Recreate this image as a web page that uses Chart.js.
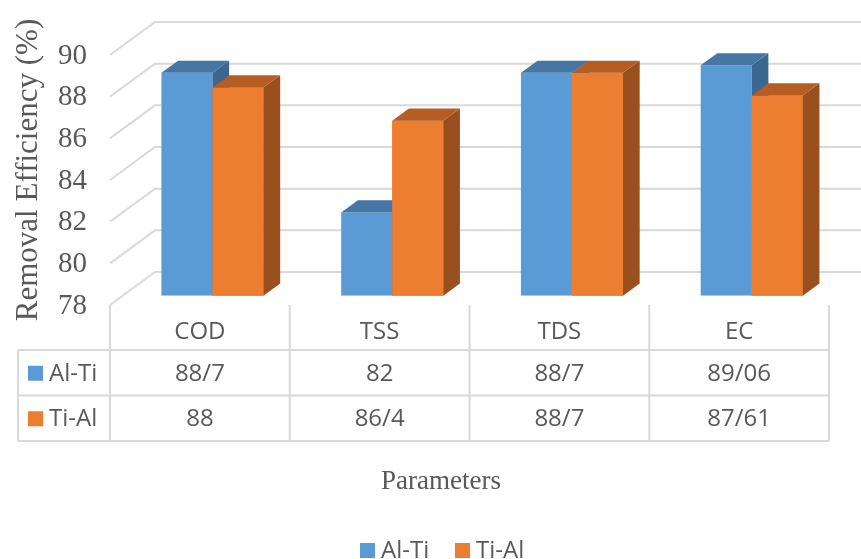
<!DOCTYPE html>
<html>
<head>
<meta charset="utf-8">
<script src="https://cdn.jsdelivr.net/npm/chart.js@4.4.1/dist/chart.umd.min.js"></script>
<style>
  body { margin: 0; background: #fff; }
  #wrap { width: 861px; height: 559px; position: relative; }
</style>
</head>
<body>
<div id="wrap"><canvas id="myChart"></canvas></div>
<script>
const categories = ['COD', 'TSS', 'TDS', 'EC'];
const seriesNames = ['Al-Ti', 'Ti-Al'];
const alTi = [88.7, 82, 88.7, 89.06];
const tiAl = [88, 86.4, 88.7, 87.61];
const yTicks = [78, 80, 82, 84, 86, 88, 90];

const blue = { front: '#5B9BD5', top: '#4676A4', side: '#3A6690' };
const orange = { front: '#ED7D31', top: '#B55D22', side: '#994F1E' };
const grid = '#D9D9D9';
const textCol = '#595959';

// depth of the 3d box: front plane -> back wall
const depth = { x: 45, y: -33 };
const barFront = 0.28; // where the bars front face sits
const barDepth = 0.37;

const fmt = (v) => String(v).replace('.', '/');

function drawFaces(ctx, el, c, withFront) {
  const dx = depth.x * barDepth;
  const dy = depth.y * barDepth;
  const l = el.x - el.width / 2;
  const r = el.x + el.width / 2;
  if (withFront) {
    ctx.fillStyle = c.front;
    ctx.fillRect(l, el.y, el.width, el.base - el.y);
  }
  ctx.fillStyle = c.side;
  ctx.beginPath();
  ctx.moveTo(r, el.y);
  ctx.lineTo(r + dx, el.y + dy);
  ctx.lineTo(r + dx, el.base + dy);
  ctx.lineTo(r, el.base);
  ctx.closePath();
  ctx.fill();
  ctx.fillStyle = c.top;
  ctx.beginPath();
  ctx.moveTo(l, el.y);
  ctx.lineTo(r, el.y);
  ctx.lineTo(r + dx, el.y + dy);
  ctx.lineTo(l + dx, el.y + dy);
  ctx.closePath();
  ctx.fill();
}

const box3d = {
  id: 'box3d',
  beforeDatasetsDraw(chart) {
    const ctx = chart.ctx;
    const y = chart.scales.y;
    const area = chart.chartArea;
    const fx = area.left - depth.x * barFront;
    ctx.save();
    ctx.strokeStyle = grid;
    ctx.lineWidth = 2;
    yTicks.forEach((t) => {
      const fy = y.getPixelForValue(t) - depth.y * barFront;
      ctx.beginPath();
      ctx.moveTo(fx, fy);
      ctx.lineTo(fx + depth.x, fy + depth.y);
      ctx.lineTo(chart.width + 10, fy + depth.y);
      ctx.stroke();
    });
    // tick labels on the front plane
    ctx.fillStyle = textCol;
    ctx.font = '29px "Liberation Serif"';
    ctx.textAlign = 'right';
    ctx.textBaseline = 'middle';
    yTicks.forEach((t) => {
      const fy = y.getPixelForValue(t) - depth.y * barFront;
      ctx.fillText(String(t), 87, fy + 1);
    });
    ctx.restore();
  },
  afterDatasetsDraw(chart) {
    const ctx = chart.ctx;
    const m0 = chart.getDatasetMeta(0).data;
    const m1 = chart.getDatasetMeta(1).data;
    ctx.save();
    m0.forEach((el, i) => {
      drawFaces(ctx, el, blue, false);
      drawFaces(ctx, m1[i], orange, true);
    });
    ctx.restore();
  },
  afterDraw(chart) {
    const ctx = chart.ctx;
    const area = chart.chartArea;
    const x = chart.scales.x;
    const y = chart.scales.y;
    const colW = (area.right - area.left) / categories.length;
    const left = area.left - depth.x * barFront;
    const floorY = y.getPixelForValue(yTicks[0]) - depth.y * barFront;
    const rowH = 45.5;
    const r1 = floorY + 45;
    const r2 = r1 + rowH;
    const r3 = r2 + rowH;
    const tableLeft = 18;

    ctx.save();
    ctx.strokeStyle = grid;
    ctx.lineWidth = 2;
    ctx.beginPath();
    for (let i = 0; i <= categories.length; i++) {
      const cx = left + i * colW;
      ctx.moveTo(cx, floorY);
      ctx.lineTo(cx, r3);
    }
    [r1, r2, r3].forEach((ry) => {
      ctx.moveTo(tableLeft, ry);
      ctx.lineTo(left + categories.length * colW, ry);
    });
    ctx.moveTo(tableLeft, r1);
    ctx.lineTo(tableLeft, r3);
    ctx.stroke();

    ctx.fillStyle = textCol;
    ctx.font = '24px "Open Sans"';
    ctx.textAlign = 'center';
    ctx.textBaseline = 'middle';
    categories.forEach((cat, i) => {
      const cx = x.getPixelForValue(i) - depth.x * barFront;
      ctx.fillText(cat, cx, floorY + 27);
      ctx.fillText(fmt(alTi[i]), cx, r1 + rowH / 2 + 1);
      ctx.fillText(fmt(tiAl[i]), cx, r2 + rowH / 2 + 1);
    });

    // row labels with colour keys
    ctx.textAlign = 'left';
    [blue, orange].forEach((c, i) => {
      const ry = r1 + i * rowH + rowH / 2;
      ctx.fillStyle = c.front;
      ctx.fillRect(28, ry - 7, 15, 15);
      ctx.fillStyle = textCol;
      ctx.fillText(seriesNames[i], 49, ry + 1);
    });

    // bottom legend
    const legX = [360, 455];
    [blue, orange].forEach((c, i) => {
      ctx.fillStyle = c.front;
      ctx.fillRect(legX[i], 543, 15, 15);
      ctx.fillStyle = textCol;
      ctx.fillText(seriesNames[i], legX[i] + 21, 551);
    });

    // axis titles
    ctx.font = '27px "Liberation Serif"';
    ctx.textAlign = 'center';
    ctx.fillText('Parameters', 441, 482);
    ctx.translate(29, 170);
    ctx.rotate(-Math.PI / 2);
    ctx.font = '31px "Liberation Serif"';
    ctx.fillText('Removal Efficiency (%)', 0, 0);
    ctx.restore();
  }
};

new Chart(document.getElementById('myChart'), {
  type: 'bar',
  data: {
    labels: categories,
    datasets: [
      {
        label: seriesNames[0],
        data: alTi,
        backgroundColor: blue.front,
        base: yTicks[0],
        categoryPercentage: 0.568,
        barPercentage: 1,
      },
      {
        label: seriesNames[1],
        data: tiAl,
        backgroundColor: orange.front,
        base: yTicks[0],
        categoryPercentage: 0.568,
        barPercentage: 1,
      },
    ],
  },
  options: {
    responsive: true,
    maintainAspectRatio: false,
    animation: false,
    layout: {
      padding: { left: 122.6, right: 19.4, top: 45.76, bottom: 263.24 },
    },
    plugins: {
      legend: { display: false },
      tooltip: { enabled: false },
    },
    scales: {
      x: { display: false },
      y: { display: false, min: 78, max: 90 },
    },
  },
  plugins: [box3d],
});
</script>
</body>
</html>
